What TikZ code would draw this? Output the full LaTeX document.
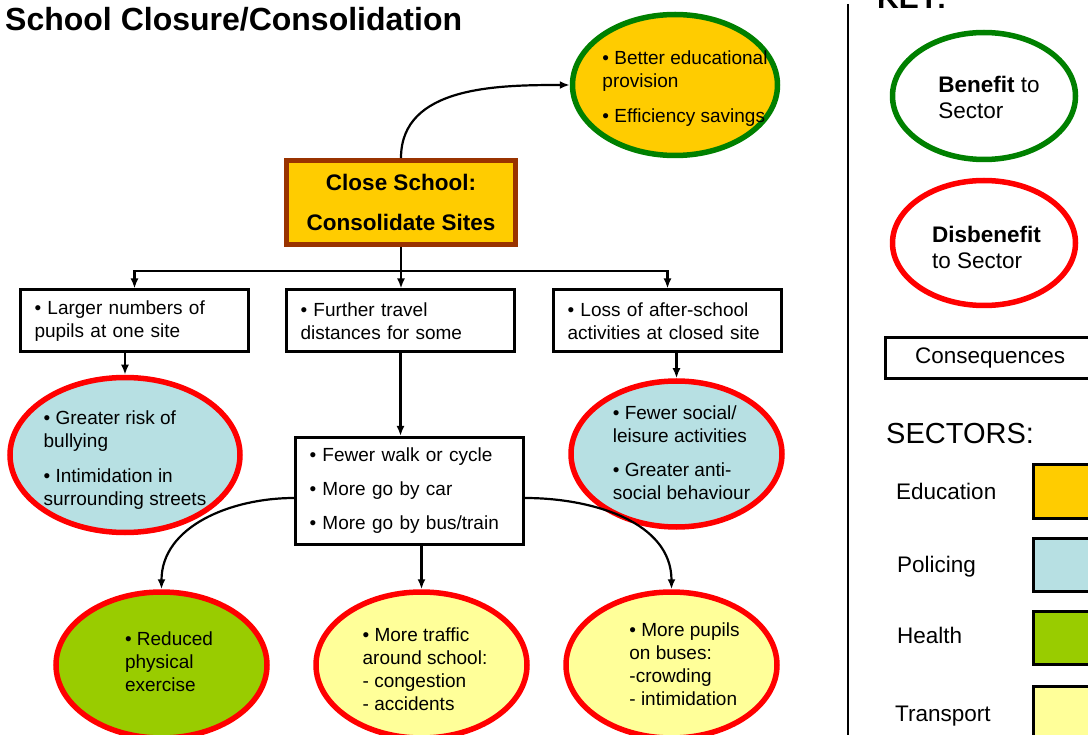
\documentclass[tikz,border=0pt]{standalone}
\usepackage{fontspec}
\setmainfont{Liberation Sans}
\usetikzlibrary{shapes.geometric, arrows.meta}
\definecolor{edu}{HTML}{FFCC00}
\definecolor{police}{HTML}{B7E0E3}
\definecolor{healthy}{HTML}{99CC00}
\definecolor{transport}{HTML}{FFFF99}
\definecolor{rim}{HTML}{993300}
\definecolor{good}{HTML}{008000}
\definecolor{bad}{HTML}{FF0000}
\begin{document}
\begin{tikzpicture}[x=1pt, y=-1pt,
    body/.style={font=\fontsize{19}{23}\selectfont},
    keytext/.style={font=\fontsize{22.5}{26}\selectfont},
    conbox/.style={draw, line width=3pt, fill=white, body, align=left,
      minimum height=62pt, inner xsep=14pt, text width=200pt},
    plus/.style={ellipse, draw=good, line width=5.5pt},
    minus/.style={ellipse, draw=bad, line width=5.5pt},
    note/.style={body, align=left, inner sep=0pt},
    keynote/.style={keytext, align=left, inner sep=0pt},
    swatch/.style={draw, line width=3pt, anchor=north west, minimum width=80pt, minimum height=53pt},
    arr/.style={-{Latex[length=10pt, width=8pt]}, line width=2.2pt}]
    \useasboundingbox (0,0) rectangle (1088,735);

    % Title
    \node[anchor=base west, inner sep=0pt, font=\bfseries\fontsize{32}{38}\selectfont] (title) at (5,31) {School Closure/Consolidation};

    % Decision
    \node[draw=rim, fill=edu, line width=5pt, minimum width=229pt, minimum height=84pt,
      align=center, font=\bfseries\fontsize{22.5}{26}\selectfont] (close) at (401,202.5) {Close School:\\[14pt]Consolidate Sites};
    \node[plus, fill=edu, minimum width=205pt, minimum height=141pt,
      label={[note, xshift=10pt, yshift=-4pt]center:{\textbullet\ Better educational\\provision\\[12pt]\textbullet\ Efficiency savings}}] (gain) at (675,85) {};

    % Consequences
    \node[conbox] (larger) at (134.5,321) {\textbullet\ Larger numbers of\\pupils at one site};
    \node[conbox] (further) at (400.5,321) {\textbullet\ Further travel\\distances for some};
    \node[conbox] (loss) at (667.5,321) {\textbullet\ Loss of after-school\\activities at closed site};
    \node[conbox, minimum height=107pt] (modes) at (409.5,491) {\textbullet\ Fewer walk or cycle\\[11pt]\textbullet\ More go by car\\[11pt]\textbullet\ More go by bus/train};

    % Sector effects
    \node[minus, fill=police, minimum width=230pt, minimum height=155pt,
      label={[note, yshift=-5pt]center:{\textbullet\ Greater risk of\\bullying\\[12pt]\textbullet\ Intimidation in\\surrounding streets}}] (bully) at (125,455) {};
    \node[minus, fill=police, minimum width=211pt, minimum height=146pt,
      label={[note, xshift=5pt, yshift=1pt]center:{\textbullet\ Fewer social/\\leisure activities\\[11pt]\textbullet\ Greater anti-\\social behaviour}}] (social) at (676.5,454) {};
    \node[minus, fill=healthy, minimum width=211pt, minimum height=146pt,
      label={[note, xshift=7.5pt, yshift=3pt]center:{\textbullet\ Reduced\\physical\\exercise}}] (exercise) at (161.5,665) {};
    \node[minus, fill=transport, minimum width=211pt, minimum height=146pt,
      label={[note, xshift=3.5pt, yshift=-4pt]center:{\textbullet\ More traffic\\around school:\\- congestion\\- accidents}}] (traffic) at (421.5,665) {};
    \node[minus, fill=transport, minimum width=211pt, minimum height=146pt,
      label={[note, xshift=13pt, yshift=1pt]center:{\textbullet\ More pupils\\on buses:\\-crowding\\- intimidation}}] (buses) at (671.5,665) {};

    % Connectors
    \coordinate (hub) at (401,271);
    \draw[line width=2.2pt] (close.south) -- (hub);
    \draw[arr] (hub) -| (larger.north);
    \draw[arr] (hub) -- (hub |- further.north);
    \draw[arr] (hub) -| (loss.north);
    \draw[arr] (close.north) to[out=90, in=180] (gain.west);
    \draw[arr] (larger.south -| bully.north) -- (bully.north);
    \draw[arr] (loss.south -| social.north) -- (social.north);
    \draw[arr] (further.south) -- (further.south |- modes.north);
    \draw[arr] (modes.south -| traffic.north) -- (traffic.north);
    \draw[arr] ([yshift=-7pt]modes.west) to[out=180, in=90] (exercise.north);
    \draw[arr] ([yshift=-7pt]modes.east) to[out=0, in=90] (buses.north);

    % Key
    \draw[line width=2.5pt] (848,4) -- (848,735);
    \node[anchor=base west, inner sep=0pt, font=\bfseries\fontsize{30}{36}\selectfont] (key) at (877,9) {KEY:};
    \node[plus, fill=white, minimum width=183pt, minimum height=127pt,
      label={[keynote, xshift=5pt, yshift=-1pt]center:{\textbf{Benefit} to\\Sector}}] (benefit) at (984,96) {};
    \node[minus, fill=white, minimum width=183pt, minimum height=125pt,
      label={[keynote, xshift=2.5pt, yshift=-4pt]center:{\textbf{Disbenefit}\\to Sector}}] (disbenefit) at (984,243) {};
    \node[draw, line width=3pt, anchor=west, keytext, align=left, text width=190pt,
      inner xsep=30pt, minimum height=41pt] (conseq) at (883.5,358) {Consequences};
    \node[anchor=base west, inner sep=0pt, font=\fontsize{29}{34}\selectfont] (sectors) at (886,443) {SECTORS:};

    % Sectors
    \node[anchor=base west, inner sep=0pt, keytext] (l-edu) at (896,500) {Education};
    \node[anchor=base west, inner sep=0pt, keytext] (l-police) at (897,572) {Policing};
    \node[anchor=base west, inner sep=0pt, keytext] (l-health) at (897,643) {Health};
    \node[anchor=base west, inner sep=0pt, keytext] (l-transport) at (895,721) {Transport};
    \node[swatch, fill=edu] (s-edu) at (1031.5,463.5) {};
    \node[swatch, fill=police] (s-police) at (1031.5,536.5) {};
    \node[swatch, fill=healthy] (s-health) at (1031.5,609.5) {};
    \node[swatch, fill=transport, minimum height=60pt] (s-transport) at (1031.5,684.5) {};
\end{tikzpicture}
\end{document}
